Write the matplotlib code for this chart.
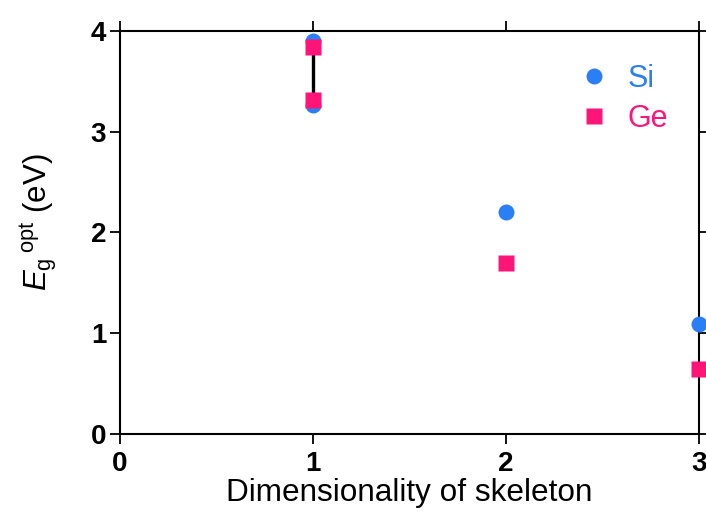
import matplotlib
matplotlib.use("Agg")
import matplotlib.pyplot as plt

# values
dims = [1, 1, 2, 3]
si_gap = [3.90, 3.27, 2.20, 1.09]
ge_gap = [3.84, 3.32, 1.70, 0.645]
xticks = [0, 1, 2, 3]
yticks = [0, 1, 2, 3, 4]

plt.rcParams['font.family'] = ['Liberation Sans', 'DejaVu Sans']
plt.rcParams['mathtext.fontset'] = 'custom'
plt.rcParams['mathtext.rm'] = 'Liberation Sans'
plt.rcParams['mathtext.it'] = 'Liberation Sans:italic'

blue = '#2b7ff5'
pink = '#ff1478'

fig = plt.figure(figsize=(7.06, 5.21), dpi=100)
ax = fig.add_axes([0.170, 0.167, 0.820, 0.7735])

# range bar for the 1D skeleton
ax.plot([1, 1], [ge_gap[0], ge_gap[1]], color='black', lw=2.4, zorder=2)

ax.plot(dims, si_gap, 'o', color=blue, ms=11.5, mec='none', label='Si',
        clip_on=False, zorder=3)
ax.plot(dims, ge_gap, 's', color=pink, ms=11.5, mec='none', label='Ge',
        clip_on=False, zorder=4)

ax.set_xlim(0, 3)
ax.set_ylim(0, 4)
ax.set_xticks(xticks)
ax.set_yticks(yticks)
ax.tick_params(direction='out', length=7, width=1.3, labelsize=20,
               top=True, right=True)
ax.tick_params(axis='x', pad=5)
ax.tick_params(axis='y', pad=3)
for lab in ax.get_xticklabels() + ax.get_yticklabels():
    lab.set_fontweight('bold')
for s in ax.spines.values():
    s.set_linewidth(1.5)

ax.set_xlabel('Dimensionality of skeleton', fontsize=22.7, labelpad=1)
ax.set_ylabel(r'$E_\mathrm{g}{}\,^\mathrm{opt}$ (eV)', fontsize=22.5)
ax.yaxis.set_label_coords(-0.105, 0.526)

leg = ax.legend(loc='upper left', bbox_to_anchor=(0.792, 0.918), frameon=False,
                fontsize=22, handlelength=1.0, handletextpad=0.6,
                labelspacing=0.32, borderpad=0, borderaxespad=0,
                labelcolor='linecolor')

fig.savefig('out.png', dpi=100)
